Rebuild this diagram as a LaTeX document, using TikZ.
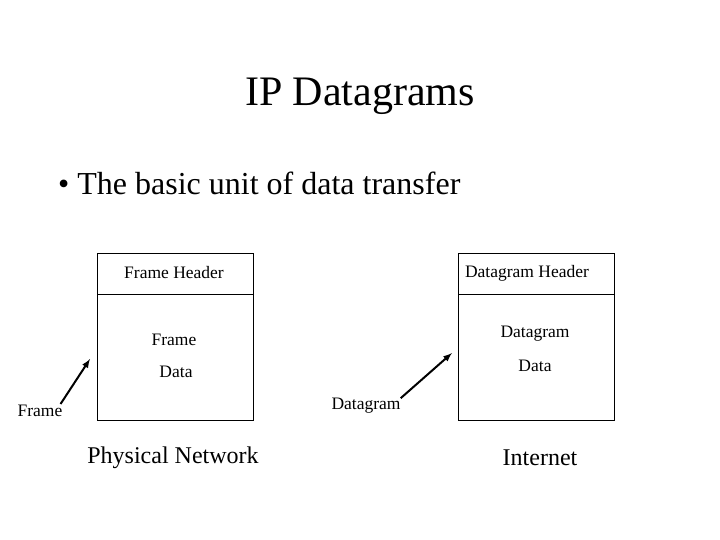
\documentclass[tikz,border=0pt]{standalone}
\usepackage{fontspec}
\setmainfont{Liberation Serif}
\begin{document}
\begin{tikzpicture}[x=1pt,y=-1pt,
  lbl/.style={font=\fontsize{17.5}{19}\selectfont, inner sep=0pt},
  big/.style={font=\fontsize{24}{26}\selectfont, inner sep=0pt},
  box/.style={draw, line width=0.8pt},
  arr/.style={-latex, line width=2pt}]
\useasboundingbox (0,0) rectangle (720,540);
\node[inner sep=0pt, font=\fontsize{42}{44}\selectfont] (title) at (360,96) {IP Datagrams};
\node[inner sep=0pt, anchor=west, font=\fontsize{32}{34}\selectfont] (bullet) at (58,183) {\textbullet\ The basic unit of data transfer};
\draw[box] (97,253) rectangle (253,420);
\draw[box] (97,294) -- (253,294);
\draw[box] (458,253) rectangle (614,420);
\draw[box] (458,294) -- (614,294);
\node[lbl] (fh) at (174,273) {Frame Header};
\node[lbl] (dh) at (527,273) {Datagram Header};
\node[lbl] (f1) at (174,340) {Frame};
\node[lbl] (f2) at (176,372) {Data};
\node[lbl] (d1) at (535,334) {Datagram};
\node[lbl] (d2) at (535,366) {Data};
\node[lbl] (fl) at (40,411) {Frame};
\node[lbl] (dl) at (366,406) {Datagram};
\coordinate (fa) at (90,359);
\coordinate (da) at (452,353);
\draw[arr] (fl.north east) ++(-2,-1) -- (fa);
\draw[arr] (dl.north east) -- (da);
\node[big] (pn) at (173,458) {Physical Network};
\node[big] (in) at (540,458) {Internet};
\end{tikzpicture}
\end{document}
